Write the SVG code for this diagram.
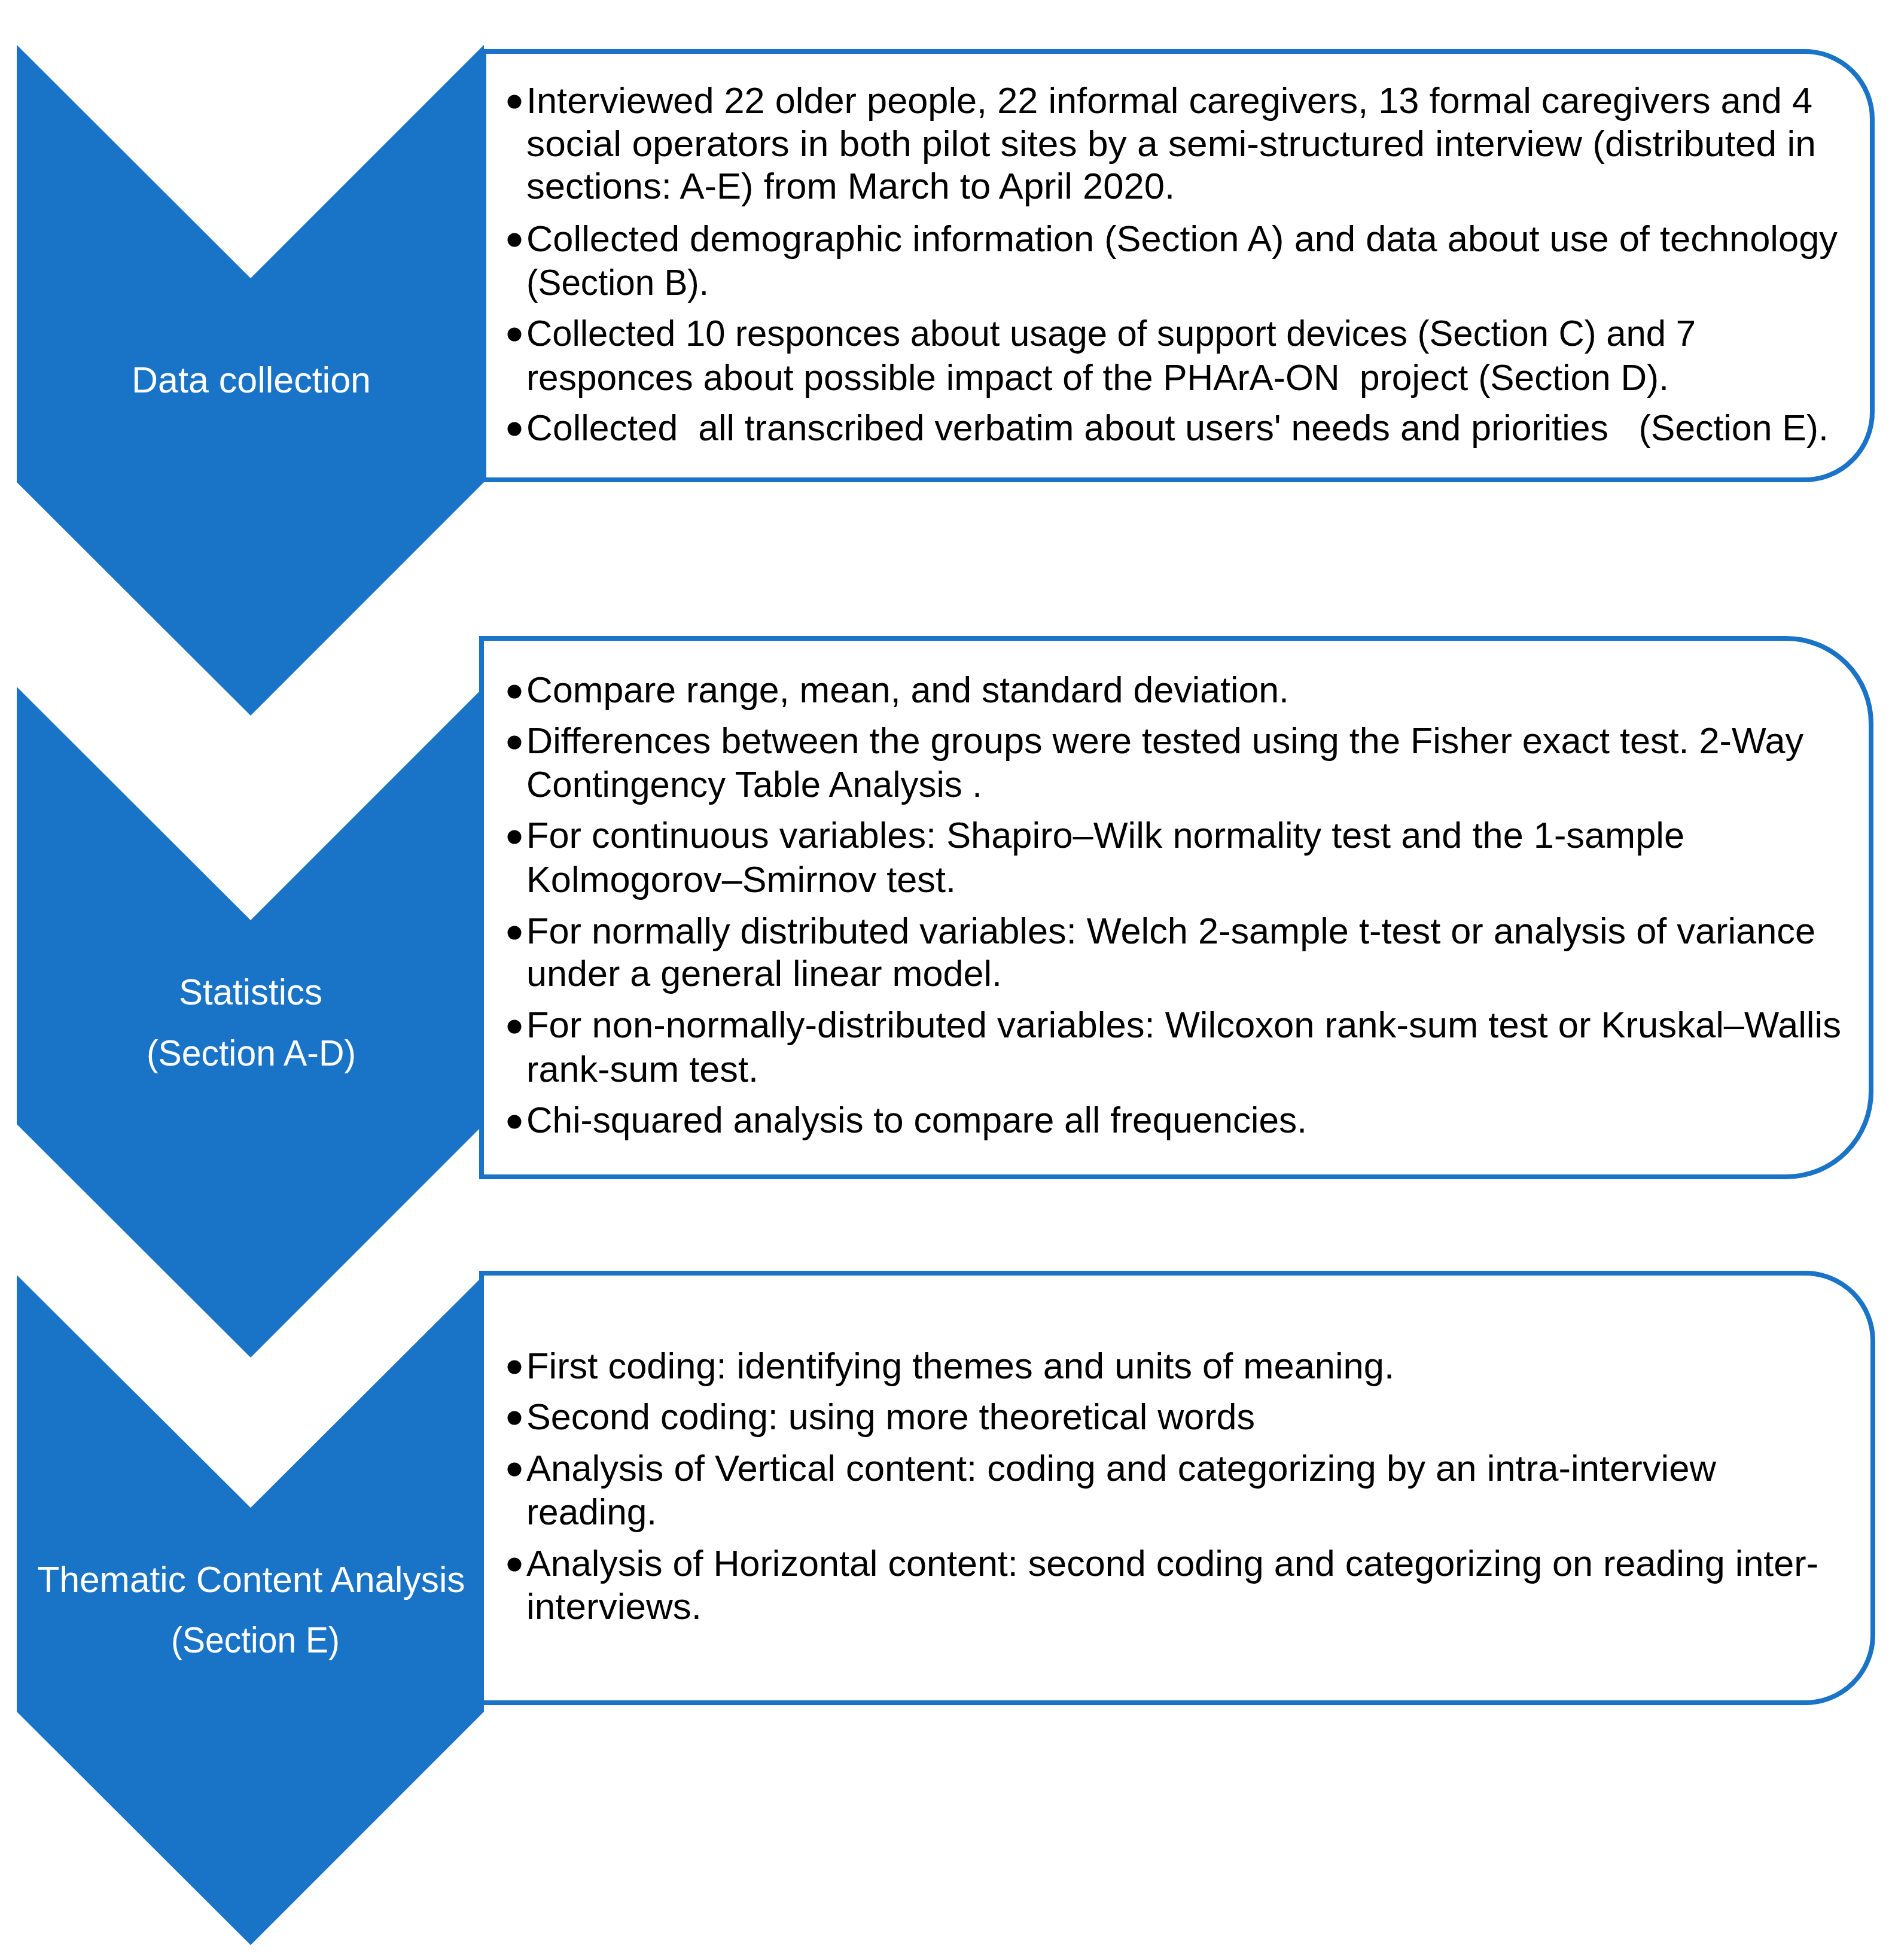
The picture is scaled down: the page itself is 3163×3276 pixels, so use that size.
<svg xmlns="http://www.w3.org/2000/svg" width="3163" height="3276" viewBox="0 0 3163 3276" xml:space="preserve">
<style>
.box{fill:#ffffff;stroke:#1973C6;stroke-width:8}
.chev{fill:#1973C6}
.b{font-family:"Liberation Sans",Arial,sans-serif;font-size:61px;fill:#000000;white-space:pre}
.l{font-family:"Liberation Sans",Arial,sans-serif;font-size:61px;fill:#ffffff;text-anchor:middle}
.dot{fill:#000000}
</style>
<rect x="0" y="0" width="3163" height="3276" fill="#ffffff"/>
<g id="connectors"></g>
<g id="box1">
<path class="box" d="M809,86 H3017 A113,113 0 0 1 3130,199 V689 A113,113 0 0 1 3017,802 H809 Z"/>
<circle class="dot" cx="860" cy="170" r="11.5"/>
<circle class="dot" cx="860" cy="401" r="11.5"/>
<circle class="dot" cx="860" cy="559" r="11.5"/>
<circle class="dot" cx="860" cy="717" r="11.5"/>
<text class="b" x="880" y="189" textLength="2150" lengthAdjust="spacingAndGlyphs">Interviewed 22 older people, 22 informal caregivers, 13 formal caregivers and 4</text>
<text class="b" x="880" y="261" textLength="2156" lengthAdjust="spacingAndGlyphs">social operators in both pilot sites by a semi-structured interview (distributed in</text>
<text class="b" x="880" y="332" textLength="1084" lengthAdjust="spacingAndGlyphs">sections: A-E) from March to April 2020.</text>
<text class="b" x="880" y="420" textLength="2192" lengthAdjust="spacingAndGlyphs">Collected demographic information (Section A) and data about use of technology</text>
<text class="b" x="880" y="493" textLength="305" lengthAdjust="spacingAndGlyphs">(Section B).</text>
<text class="b" x="880" y="578" textLength="1955" lengthAdjust="spacingAndGlyphs">Collected 10 responces about usage of support devices (Section C) and 7</text>
<text class="b" x="880" y="652" textLength="1910" lengthAdjust="spacingAndGlyphs" xml:space="preserve">responces about possible impact of the PHArA-ON  project (Section D).</text>
<text class="b" x="880" y="736" textLength="2177" lengthAdjust="spacingAndGlyphs" xml:space="preserve">Collected  all transcribed verbatim about users' needs and priorities   (Section E).</text>
</g>
<g id="box2">
<path class="box" d="M805,1067 H2986 A142,142 0 0 1 3128,1209 V1825 A142,142 0 0 1 2986,1967 H805 Z"/>
<circle class="dot" cx="860" cy="1156" r="11.5"/>
<circle class="dot" cx="860" cy="1241" r="11.5"/>
<circle class="dot" cx="860" cy="1399" r="11.5"/>
<circle class="dot" cx="860" cy="1559" r="11.5"/>
<circle class="dot" cx="860" cy="1716" r="11.5"/>
<circle class="dot" cx="860" cy="1875" r="11.5"/>
<text class="b" x="880" y="1174" textLength="1275" lengthAdjust="spacingAndGlyphs">Compare range, mean, and standard deviation.</text>
<text class="b" x="880" y="1259" textLength="2135" lengthAdjust="spacingAndGlyphs">Differences between the groups were tested using the Fisher exact test. 2-Way</text>
<text class="b" x="880" y="1332" textLength="762" lengthAdjust="spacingAndGlyphs">Contingency Table Analysis .</text>
<text class="b" x="880" y="1417" textLength="1936" lengthAdjust="spacingAndGlyphs">For continuous variables: Shapiro–Wilk normality test and the 1-sample</text>
<text class="b" x="880" y="1491" textLength="718" lengthAdjust="spacingAndGlyphs">Kolmogorov–Smirnov test.</text>
<text class="b" x="880" y="1577" textLength="2155" lengthAdjust="spacingAndGlyphs">For normally distributed variables: Welch 2-sample t-test or analysis of variance</text>
<text class="b" x="880" y="1648" textLength="795" lengthAdjust="spacingAndGlyphs">under a general linear model.</text>
<text class="b" x="880" y="1734" textLength="2198" lengthAdjust="spacingAndGlyphs">For non-normally-distributed variables: Wilcoxon rank-sum test or Kruskal–Wallis</text>
<text class="b" x="880" y="1808" textLength="388" lengthAdjust="spacingAndGlyphs">rank-sum test.</text>
<text class="b" x="880" y="1893" textLength="1305" lengthAdjust="spacingAndGlyphs">Chi-squared analysis to compare all frequencies.</text>
</g>
<g id="box3">
<path class="box" d="M805,2128 H3018 A113,113 0 0 1 3131,2241 V2733 A113,113 0 0 1 3018,2846 H805 Z"/>
<circle class="dot" cx="860" cy="2285" r="11.5"/>
<circle class="dot" cx="860" cy="2370" r="11.5"/>
<circle class="dot" cx="860" cy="2456" r="11.5"/>
<circle class="dot" cx="860" cy="2615" r="11.5"/>
<text class="b" x="880" y="2304" textLength="1451" lengthAdjust="spacingAndGlyphs">First coding: identifying themes and units of meaning.</text>
<text class="b" x="880" y="2389" textLength="1218" lengthAdjust="spacingAndGlyphs">Second coding: using more theoretical words</text>
<text class="b" x="880" y="2475" textLength="1989" lengthAdjust="spacingAndGlyphs">Analysis of Vertical content: coding and categorizing by an intra-interview</text>
<text class="b" x="880" y="2548" textLength="218" lengthAdjust="spacingAndGlyphs">reading.</text>
<text class="b" x="880" y="2634" textLength="2160" lengthAdjust="spacingAndGlyphs">Analysis of Horizontal content: second coding and categorizing on reading inter-</text>
<text class="b" x="880" y="2706" textLength="293" lengthAdjust="spacingAndGlyphs">interviews.</text>
</g>
<g id="step1">
<polygon class="chev" points="28,75 419,465 809,75 809,806 419,1196 28,806"/>
<text class="l" x="420" y="656" textLength="400" lengthAdjust="spacingAndGlyphs">Data collection</text>
</g>
<g id="step2">
<polygon class="chev" points="28,1148 419,1538 809,1148 809,1879 419,2269 28,1879"/>
<text class="l" x="419" y="1679" textLength="240" lengthAdjust="spacingAndGlyphs">Statistics</text>
<text class="l" x="420" y="1781" textLength="350" lengthAdjust="spacingAndGlyphs">(Section A-D)</text>
</g>
<g id="step3">
<polygon class="chev" points="28,2131 419,2520 809,2131 809,2861 419,3251 28,2861"/>
<text class="l" x="420" y="2661" textLength="715" lengthAdjust="spacingAndGlyphs">Thematic Content Analysis</text>
<text class="l" x="427" y="2762" textLength="282" lengthAdjust="spacingAndGlyphs">(Section E)</text>
</g>
</svg>
